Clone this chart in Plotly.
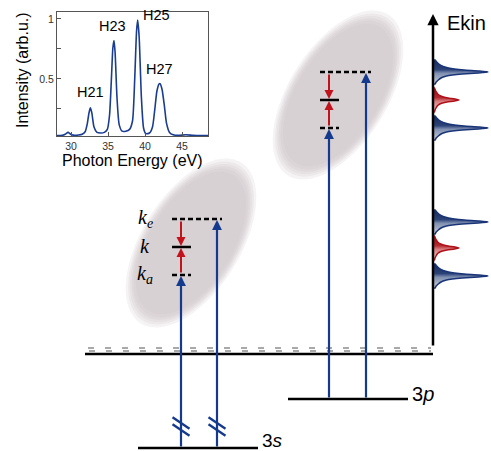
import numpy as np
import plotly.graph_objects as go

# ---------------- inset: HHG spectrum ----------------
photon_energy = [28.1, 28.8, 29.2, 29.6, 30.0, 30.5, 31.0, 31.5, 31.9, 32.2, 32.4, 32.6, 32.8, 33.1,
                 33.5, 34.0, 34.5, 34.9, 35.2, 35.45, 35.65, 35.8, 35.95, 36.2, 36.5, 36.9, 37.4,
                 37.9, 38.3, 38.6, 38.85, 39.0, 39.2, 39.5, 39.8, 40.1, 40.6, 41.0, 41.3, 41.6,
                 41.9, 42.05, 42.3, 42.6, 42.9, 43.3, 43.8, 44.5, 45.5, 46.5, 47.5, 48.5]
intensity = [0.028, 0.03, 0.04, 0.055, 0.038, 0.03, 0.033, 0.04, 0.06, 0.13, 0.21, 0.26, 0.22, 0.10,
             0.055, 0.05, 0.055, 0.08, 0.20, 0.50, 0.76, 0.82, 0.72, 0.35, 0.12, 0.065, 0.065,
             0.08, 0.15, 0.50, 0.90, 0.99, 0.85, 0.35, 0.09, 0.045, 0.05, 0.10, 0.24, 0.40,
             0.46, 0.46, 0.41, 0.28, 0.13, 0.055, 0.035, 0.03, 0.035, 0.03, 0.028, 0.028]
harmonic_names = ["H21", "H23", "H25", "H27"]
harmonic_energy = [32.6, 35.8, 39.0, 42.0]
harmonic_peak = [0.26, 0.82, 0.99, 0.46]
energy_ticks = [30, 35, 40, 45]
intensity_ticks = [0.25, 0.5, 0.75, 1]
intensity_ticktext = ["", "0.5", "", "1"]

# ---------------- main level diagram (diagram units, y downward) ----------------
level_names = ["3<i>s</i>", "3<i>p</i>"]
level_y = [448, 399]
level_x0 = [138, 288]
level_x1 = [258, 408]
continuum_y = 354
continuum_x = [85, 433]

photon_x_3s = [181, 217]
photon_x_3p = [329, 366]
side_y_3s = [219, 247, 275]      # k_e, k, k_a
side_y_3p = [72, 100, 128]
k_labels = ["<i>k</i><sub><i>e</i></sub>", "<i>k</i>", "<i>k</i><sub><i>a</i></sub>"]

ekin_x = 433
ekin_top = 14
ekin_peak_y = [72, 100, 128, 222, 248, 276]
ekin_peak_amp = [54, 25, 54, 54, 25, 54]
ekin_peak_kind = ["b", "r", "b", "b", "r", "b"]
profile_offset = [-12, -10, -8, -6, -5, -4, -3, -2, -1, 0, 1, 2, 3, 4, 5, 6, 8, 10, 12]
profile_value = [0.02, 0.05, 0.09, 0.15, 0.2, 0.27, 0.38, 0.56, 0.84, 1.0, 0.82, 0.52, 0.34, 0.23, 0.17, 0.13, 0.08, 0.04, 0.02]

ellipse_cx = [191, 338]
ellipse_cy = [243, 95]
ellipse_a = 87
ellipse_b = 45
ellipse_angle_deg = 58

BLUE = "#143a8e"
RED = "#c2121c"

fig = go.Figure()

# ---- gray ellipses (soft edges via stacked layers) ----
shapes = []
t = np.linspace(0, 2 * np.pi, 90)
th = np.deg2rad(ellipse_angle_deg)
for cx, cy in zip(ellipse_cx, ellipse_cy):
    for s in [1.09, 1.05, 1.02, 0.99, 0.96, 0.92]:
        ex = s * ellipse_a * np.cos(t)
        ey = s * ellipse_b * np.sin(t)
        px = cx + ex * np.cos(th) - ey * np.sin(th)
        py = cy - (ex * np.sin(th) + ey * np.cos(th))
        path = "M " + " L ".join(f"{a:.2f},{b:.2f}" for a, b in zip(px, py)) + " Z"
        shapes.append(dict(type="path", path=path, xref="x", yref="y", layer="below",
                           fillcolor="rgba(200,192,196,0.19)", line=dict(width=0)))

# ---- hatch marks above continuum ----
for dy, off in [(-6, 0), (-3, 1)]:
    fig.add_trace(go.Scatter(x=[continuum_x[0] + 3 + off, continuum_x[1] - 2],
                             y=[continuum_y + dy, continuum_y + dy], mode="lines",
                             line=dict(color="#555", width=1.2, dash="6px,11px"),
                             hoverinfo="skip", showlegend=False, xaxis="x", yaxis="y"))

# ---- levels ----
def hline(x0, x1, y, dash=None, width=2.5, color="black"):
    fig.add_trace(go.Scatter(x=[x0, x1], y=[y, y], mode="lines",
                             line=dict(color=color, width=width, dash=dash),
                             hoverinfo="skip", showlegend=False, xaxis="x", yaxis="y"))

hline(continuum_x[0], continuum_x[1], continuum_y)
for x0, x1, y in zip(level_x0, level_x1, level_y):
    hline(x0, x1, y)

# sideband levels
for xs, ys in [(photon_x_3s, side_y_3s), (photon_x_3p, side_y_3p)]:
    hline(xs[0] - 9, xs[1] + 5, ys[0], dash="5px,3px")
    hline(xs[0] - 9, xs[0] + 10, ys[1])
    hline(xs[0] - 9, xs[0] + 10, ys[2], dash="5px,3px")

annotations = []
def arrow(x0, y0, x1, y1, color, width=2.2, size=0.9, head=2):
    annotations.append(dict(x=x1, y=y1, ax=x0, ay=y0, xref="x", yref="y", axref="x", ayref="y",
                            text="", showarrow=True, arrowhead=head, arrowsize=size,
                            arrowwidth=width, arrowcolor=color))

for xs, ys, y0 in [(photon_x_3s, side_y_3s, level_y[0]), (photon_x_3p, side_y_3p, level_y[1])]:
    arrow(xs[0], y0, xs[0], ys[2] + 1, BLUE)
    arrow(xs[1], y0, xs[1], ys[0] + 1, BLUE)
    arrow(xs[0], ys[0] + 1, xs[0], ys[1] - 1, RED, width=2, size=0.9)
    arrow(xs[0], ys[2] - 1, xs[0], ys[1] + 1, RED, width=2, size=0.9)

# break marks on the 3s photons
bx, by = [], []
for x in photon_x_3s:
    for yc in [423, 430]:
        bx += [x - 8.5, x + 8.5, None]
        by += [yc - 5.8, yc + 5.8, None]
fig.add_trace(go.Scatter(x=bx, y=by, mode="lines", line=dict(color=BLUE, width=2.3),
                         hoverinfo="skip", showlegend=False, xaxis="x", yaxis="y"))

# Ekin axis
arrow(ekin_x, continuum_y - 7, ekin_x, ekin_top, "black", width=2.5, size=0.9)

# Ekin peaks
for yc, amp, kind in zip(ekin_peak_y, ekin_peak_amp, ekin_peak_kind):
    py = [yc + o for o in profile_offset]
    px = [ekin_x + 1 + amp * v for v in profile_value]
    xs = [ekin_x + 1] + px + [ekin_x + 1]
    ys = [py[0]] + py + [py[-1]]
    if kind == "b":
        line_c = "#1a3478"
        cs = [[0, "#c9cfdc"], [0.45, "#7f8fb0"], [0.6, "#2c4378"], [1, "#16285c"]]
    else:
        line_c = "#b01018"
        cs = [[0, "#f3cfcf"], [0.45, "#d77a7e"], [0.6, "#b42a30"], [1, "#8e0d14"]]
    fig.add_trace(go.Scatter(x=xs, y=ys, mode="lines", fill="toself",
                             fillgradient=dict(type="vertical", colorscale=cs),
                             line=dict(color=line_c, width=1.5, shape="spline", smoothing=0.5),
                             hoverinfo="skip", showlegend=False, xaxis="x", yaxis="y"))

# ---- inset spectrum trace ----
fig.add_trace(go.Scatter(x=photon_energy, y=intensity, mode="lines",
                         line=dict(color="#1b3d91", width=1.6, shape="spline", smoothing=0.6),
                         hoverinfo="skip", showlegend=False, xaxis="x2", yaxis="y2"))

# ---- texts ----
txt = dict(font=dict(family="Liberation Sans, Arial", size=20, color="black"), showarrow=False)
annotations.append(dict(x=466, y=23, xref="x", yref="y", text="Ekin", **txt))
annotations.append(dict(x=423, y=394, xref="x", yref="y", text=level_names[1], **txt))
annotations.append(dict(x=272, y=440, xref="x", yref="y", text=level_names[0],
                        font=dict(family="Liberation Sans, Arial", size=19, color="black"),
                        showarrow=False))
for lab, y in zip(k_labels, side_y_3s):
    annotations.append(dict(x=145, y=y - 1, xref="x", yref="y", text=lab, showarrow=False,
                            font=dict(family="Liberation Serif, serif", size=20, color="black")))

hfont = dict(family="Liberation Sans, Arial", size=14.5, color="black")
h_dx = [0, -0.2, 2.6, -0.1]
h_dy = [0.05, 0.04, -0.04, 0.04]
for name, e, p, dx, dy in zip(harmonic_names, harmonic_energy, harmonic_peak, h_dx, h_dy):
    annotations.append(dict(x=e + dx, y=p + dy, xref="x2", yref="y2", text=name,
                            showarrow=False, font=hfont, yanchor="bottom"))

annotations.append(dict(x=132, y=160, xref="x", yref="y", text="Photon Energy (eV)", showarrow=False,
                        font=dict(family="Liberation Sans, Arial", size=16, color="black")))
annotations.append(dict(x=22, y=70, xref="x", yref="y", text="Intensity (arb.u.)", showarrow=False,
                        textangle=-90, font=dict(family="Liberation Sans, Arial", size=16, color="black")))

W, H = 491, 451
fig.update_layout(
    width=W, height=H, margin=dict(l=0, r=0, t=0, b=0),
    paper_bgcolor="white", plot_bgcolor="rgba(0,0,0,0)",
    shapes=shapes, annotations=annotations, showlegend=False,
    xaxis=dict(range=[0, W], domain=[0, 1], visible=False, fixedrange=True),
    yaxis=dict(range=[H, 0], domain=[0, 1], visible=False, fixedrange=True),
    xaxis2=dict(domain=[57 / W, 208 / W], range=[28.1, 48.5], anchor="y2",
                showline=True, mirror=True, linecolor="#555", linewidth=1,
                ticks="inside", ticklen=4, tickcolor="#555", tickvals=energy_ticks,
                tickfont=dict(family="Liberation Sans, Arial", size=10.5, color="#333"),
                showgrid=False, zeroline=False),
    yaxis2=dict(domain=[1 - 136 / H, 1 - 12 / H], range=[0.025, 1.058], anchor="x2",
                showline=True, mirror=True, linecolor="#555", linewidth=1,
                ticks="inside", ticklen=4, tickcolor="#555", tickvals=intensity_ticks,
                ticktext=intensity_ticktext,
                tickfont=dict(family="Liberation Sans, Arial", size=10.5, color="#333"),
                showgrid=False, zeroline=False),
)

fig.write_html("out.html", config={"displayModeBar": False},
               post_script="document.body.style.margin='0px';document.body.style.overflow='hidden';")
